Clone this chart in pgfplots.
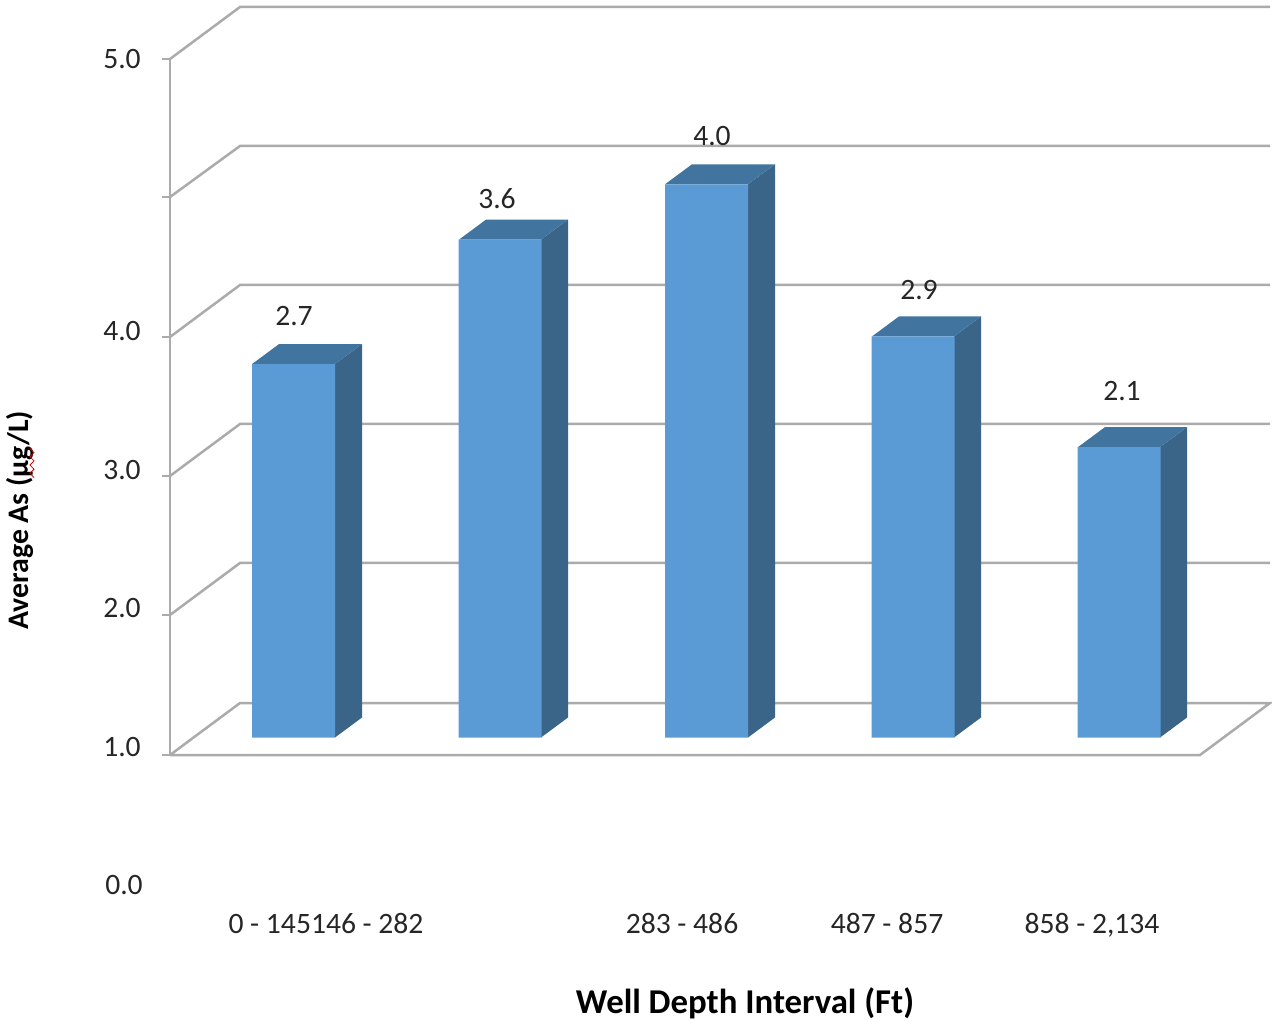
\documentclass[border=0pt]{standalone}
\usepackage{fontspec}
\setmainfont{Carlito}
\usepackage{pgfplots}
\pgfplotsset{compat=1.18}
\definecolor{gridgray}{HTML}{ABABAB}
\definecolor{barfront}{HTML}{5B9BD5}
\definecolor{barside}{HTML}{3A6589}
\definecolor{bartop}{HTML}{41749F}
\definecolor{inktext}{HTML}{262626}
\tikzset{
  grid line/.style={draw=gridgray, line width=1.25pt, line join=miter},
  tick mark/.style={draw=gridgray, line width=0.8pt},
  bar side/.style={fill=barside, draw=none},
  bar top/.style={fill=bartop, draw=none},
  tick text/.style={font=\fontsize{14.8pt}{16pt}\selectfont, text=inktext, anchor=center, inner sep=0pt, text height=9.3pt, text depth=0pt},
}
\begin{document}
\begin{tikzpicture}
\begin{axis}[
  scale only axis,
  width=636pt, height=510pt,
  xmin=0, xmax=1272,
  ymin=-2.0426, ymax=5.3326,
  hide axis,
  clip=false,
]
% the page spans the whole plotting rectangle
\path (rel axis cs:0,0) (rel axis cs:1,1);
% back wall and floor, drawn from the front edge to the rear edge
\addplot[grid line] coordinates {(170,-0.1265) (240,0.2495) (1270,0.2495) (1200,-0.1265) (170,-0.1265)};
\addplot[grid line] coordinates {(170,0.886) (240,1.262) (1270,1.262)};
\addplot[grid line] coordinates {(170,1.891) (240,2.267) (1270,2.267)};
\addplot[grid line] coordinates {(170,2.896) (240,3.272) (1270,3.272)};
\addplot[grid line] coordinates {(170,3.908) (240,4.277) (1270,4.277)};
\addplot[grid line] coordinates {(170,4.906) (240,5.282) (1270,5.282)};
% vertical axis with its tick marks
\addplot[grid line] coordinates {(170,4.906) (170,-0.1265)};
\addplot[tick mark] coordinates {(162,4.906) (170,4.906)};
\addplot[tick mark] coordinates {(162,3.908) (170,3.908)};
\addplot[tick mark] coordinates {(162,2.896) (170,2.896)};
\addplot[tick mark] coordinates {(162,1.891) (170,1.891)};
\addplot[tick mark] coordinates {(162,0.886) (170,0.886)};
\addplot[tick mark] coordinates {(162,-0.1265) (170,-0.1265)};
% right faces of the columns
\addplot[bar side] coordinates {(335,0) (362,0.1446) (362,2.8446) (335,2.7)} -- cycle;
\addplot[bar side] coordinates {(541,0) (568,0.1446) (568,3.7446) (541,3.6)} -- cycle;
\addplot[bar side] coordinates {(748,0) (775,0.1446) (775,4.1446) (748,4.0)} -- cycle;
\addplot[bar side] coordinates {(954,0) (981,0.1446) (981,3.0446) (954,2.9)} -- cycle;
\addplot[bar side] coordinates {(1160,0) (1187,0.1446) (1187,2.2446) (1160,2.1)} -- cycle;
% top faces of the columns
\addplot[bar top] coordinates {(252,2.7) (279,2.8446) (362,2.8446) (335,2.7)} -- cycle;
\addplot[bar top] coordinates {(459,3.6) (486,3.7446) (568,3.7446) (541,3.6)} -- cycle;
\addplot[bar top] coordinates {(665,4.0) (692,4.1446) (775,4.1446) (748,4.0)} -- cycle;
\addplot[bar top] coordinates {(872,2.9) (899,3.0446) (981,3.0446) (954,2.9)} -- cycle;
\addplot[bar top] coordinates {(1078,2.1) (1105,2.2446) (1187,2.2446) (1160,2.1)} -- cycle;
% front faces: average arsenic by well depth interval
\addplot[ybar, bar width=41.5pt, bar shift=0pt, fill=barfront, draw=none] coordinates {(293.5,2.7) (500,3.6) (706.5,4.0) (913,2.9) (1119,2.1)};
% value labels
\node[tick text] at (axis cs:294,3.046) {2.7};
\node[tick text] at (axis cs:497,3.893) {3.6};
\node[tick text] at (axis cs:712,4.349) {4.0};
\node[tick text] at (axis cs:919,3.236) {2.9};
\node[tick text] at (axis cs:1122,2.505) {2.1};
% vertical scale labels
\node[tick text] at (axis cs:122,4.906) {5.0};
\node[tick text] at (axis cs:122,2.939) {4.0};
\node[tick text] at (axis cs:122,1.934) {3.0};
\node[tick text] at (axis cs:122,0.936) {2.0};
\node[tick text] at (axis cs:122,-0.069) {1.0};
\node[tick text] at (axis cs:124,-1.067) {0.0};
% interval labels
\node[tick text] at (axis cs:326,-1.349) {0 - 145146 - 282};
\node[tick text] at (axis cs:682,-1.349) {283 - 486};
\node[tick text] at (axis cs:887,-1.349) {487 - 857};
\node[tick text] at (axis cs:1092,-1.349) {858 - 2,134};
% axis titles
\node[anchor=center, inner sep=0pt, text=black, font=\fontsize{17.4pt}{19pt}\selectfont\bfseries] at (axis cs:745,-1.920) {Well Depth Interval (Ft)};
\node[anchor=center, inner sep=0pt, text=black, rotate=90, font=\fontsize{14.9pt}{17pt}\selectfont\bfseries] at (axis cs:20,1.572) {Average As (µg/L)};
% proofing squiggle under the unit
\addplot[red!85!black, line width=0.4pt] coordinates {(30,2.09) (34,2.06) (30,2.03) (34,2.00) (30,1.97) (34,1.94) (30,1.91) (34,1.88)};
\end{axis}
\end{tikzpicture}
\end{document}
